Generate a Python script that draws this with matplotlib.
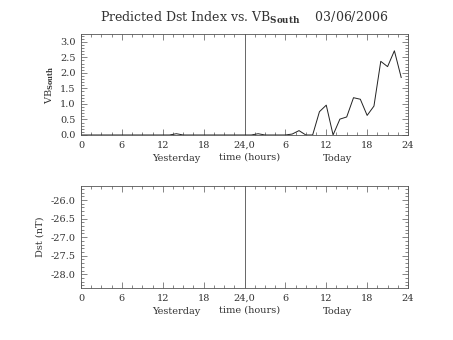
#!/usr/bin/env python3

import numpy as np
from matplotlib import pyplot as plt
from matplotlib.ticker import MultipleLocator, FixedLocator, FixedFormatter

# hourly VB_south, yesterday (0-23) then today (24-47)
hours = list(range(48))
vb_south = [0, 0, 0, 0, 0, 0, 0, 0, 0, 0, 0, 0, 0, 0.0, 0.04, 0, 0, 0, 0, 0, 0, 0, 0, 0,
            0, 0, 0.04, 0, 0, 0, 0, 0.03, 0.14, 0, 0, 0.75, 0.96, 0, 0.51, 0.58,
            1.2, 1.15, 0.63, 0.93, 2.37, 2.2, 2.71, 1.85]

x_ticks = [0, 6, 12, 18, 24, 30, 36, 42, 48]
x_ticklabels = ["0", "6", "12", "18", "24,0", "6", "12", "18", "24"]
vb_ticks = [0.0, 0.5, 1.0, 1.5, 2.0, 2.5, 3.0]
dst_ticks = [-26.0, -26.5, -27.0, -27.5, -28.0]

title = r"Predicted Dst Index vs. VB$_{\mathbf{South}}$    03/06/2006"
date_divider = 24

plt.rcParams["font.family"] = "DejaVu Serif"
plt.rcParams["mathtext.fontset"] = "dejavuserif"
TXT = "#333333"

fig = plt.figure(figsize=(4.53, 3.4), dpi=100)
ax1 = fig.add_axes([0.1788, 0.603, 0.7219, 0.297])
ax2 = fig.add_axes([0.1788, 0.153, 0.7219, 0.300])


def style_axis(ax, yticks, ymin, ymax):
    ax.set_xlim(0, 48)
    ax.set_ylim(ymin, ymax)
    ax.xaxis.set_major_locator(FixedLocator(x_ticks))
    ax.xaxis.set_major_formatter(FixedFormatter(x_ticklabels))
    ax.xaxis.set_minor_locator(MultipleLocator(1.5))
    ax.yaxis.set_major_locator(FixedLocator(yticks))
    ax.yaxis.set_minor_locator(MultipleLocator(0.1))
    ax.yaxis.set_major_formatter(plt.FormatStrFormatter("%.1f"))
    ax.tick_params(which="both", direction="in", top=True, right=True,
                   labelsize=7, colors="#555555", labelcolor=TXT, width=0.5, pad=4)
    ax.tick_params(which="major", length=4.5)
    ax.tick_params(which="minor", length=2)
    for s in ax.spines.values():
        s.set_linewidth(0.6)
        s.set_color("#555555")
    ax.axvline(date_divider, color="#666666", lw=0.7)
    # IDL-style sub labels under the tick labels
    for xpos, txt, dy in [(14, "Yesterday", -19), (24.7, "time (hours)", -18), (37.7, "Today", -19)]:
        ax.annotate(txt, (xpos, 0), xycoords=("data", "axes fraction"),
                    xytext=(0, dy), textcoords="offset points",
                    ha="center", va="baseline", fontsize=7, color=TXT)


style_axis(ax1, vb_ticks, 0, 3.25)
ax1.plot(hours, vb_south, color="#222222", lw=0.7)
ax1.set_ylabel(r"VB$_{\mathbf{South}}$", fontsize=7, color=TXT, labelpad=3)
ax1.set_title(title, fontsize=9, color=TXT, pad=9)

style_axis(ax2, dst_ticks, -28.37, -25.62)
ax2.set_ylabel("Dst (nT)", fontsize=7, color=TXT, labelpad=4)

fig.savefig("out.png", dpi=100)
